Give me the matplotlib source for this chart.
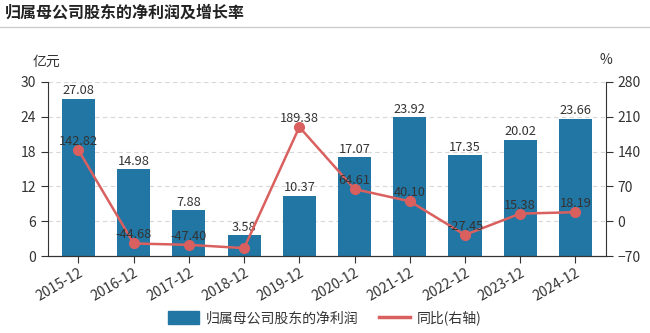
import matplotlib
matplotlib.use("Agg")
import matplotlib.pyplot as plt
from matplotlib.lines import Line2D
from matplotlib.patches import Patch

plt.rcParams['font.family'] = ['Microsoft YaHei', 'Noto Sans CJK SC', 'DejaVu Sans']

categories = ['2015-12', '2016-12', '2017-12', '2018-12', '2019-12',
              '2020-12', '2021-12', '2022-12', '2023-12', '2024-12']
profit = [27.08, 14.98, 7.88, 3.58, 10.37, 17.07, 23.92, 17.35, 20.02, 23.66]
growth = [142.82, -44.68, -47.40, -54.0, 189.38, 64.61, 40.10, -27.45, 15.38, 18.19]
growth_labels = ['142.82', '-44.68', '-47.40', '', '189.38', '64.61', '40.10', '-27.45', '15.38', '18.19']
left_ticks = [0, 6, 12, 18, 24, 30]
right_ticks = [-70, 0, 70, 140, 210, 280]

bar_color = '#2276a4'
line_color = '#d9605f'
text_color = '#333333'

fig = plt.figure(figsize=(6.5, 3.33), dpi=100)
fig.text(0.008, 0.962, '归属母公司股东的净利润及增长率', fontsize=11.5, fontweight='bold',
         color='#222222', va='center', ha='left')
fig.add_artist(Line2D([0, 1], [0.918, 0.918], color='#cccccc', lw=1, transform=fig.transFigure))

ax = fig.add_axes([0.074, 0.231, 0.858, 0.523])
x = list(range(len(categories)))
ax.bar(x, profit, width=0.6, color=bar_color, zorder=2)
ax.set_ylim(0, 30)
ax.set_yticks(left_ticks)
ax.set_xlim(-0.55, len(categories) - 0.45)
ax.set_xticks(x)
ax.set_xticklabels(categories, rotation=30, ha='right', rotation_mode='anchor')
for v in left_ticks[1:]:
    ax.axhline(v, color='#d8d8d8', lw=0.8, ls=(0, (4, 3)), zorder=0)
for xi, v in zip(x, profit):
    ax.text(xi, v + 0.25, f'{v:.2f}', ha='center', va='bottom', fontsize=9.2, color=text_color, zorder=5)

ax2 = ax.twinx()
ax2.set_ylim(-70, 280)
ax2.set_yticks(right_ticks)
ax2.plot(x, growth, color=line_color, lw=1.8, marker='o', markersize=7, zorder=3)
for xi, v, lab in zip(x, growth, growth_labels):
    if lab:
        ax2.text(xi, v + 4, lab, ha='center', va='bottom', fontsize=9.2, color=text_color, zorder=5)

for a in (ax, ax2):
    a.spines['top'].set_visible(False)
    for s in ('left', 'right', 'bottom'):
        a.spines[s].set_color('#333333')
    a.tick_params(colors='#333333', labelsize=10, length=5, width=0.8)
ax2.spines['left'].set_visible(False)
ax.spines['right'].set_visible(False)
ax.tick_params(axis='x', pad=2)

fig.text(0.072, 0.815, '亿元', fontsize=10, color='#333333', ha='center', va='center')
fig.text(0.932, 0.82, '%', fontsize=10, color='#333333', ha='center', va='center')

handles = [Patch(facecolor=bar_color, edgecolor=bar_color),
           Line2D([0], [0], color=line_color, lw=2.5)]
fig.legend(handles, ['归属母公司股东的净利润', '同比(右轴)'], loc='center', bbox_to_anchor=(0.5, 0.045),
           ncol=2, frameon=False, fontsize=10, handlelength=2.2, handleheight=1.0,
           columnspacing=1.5, handletextpad=0.5, labelcolor='#333333')

fig.savefig('out.png', dpi=100)
